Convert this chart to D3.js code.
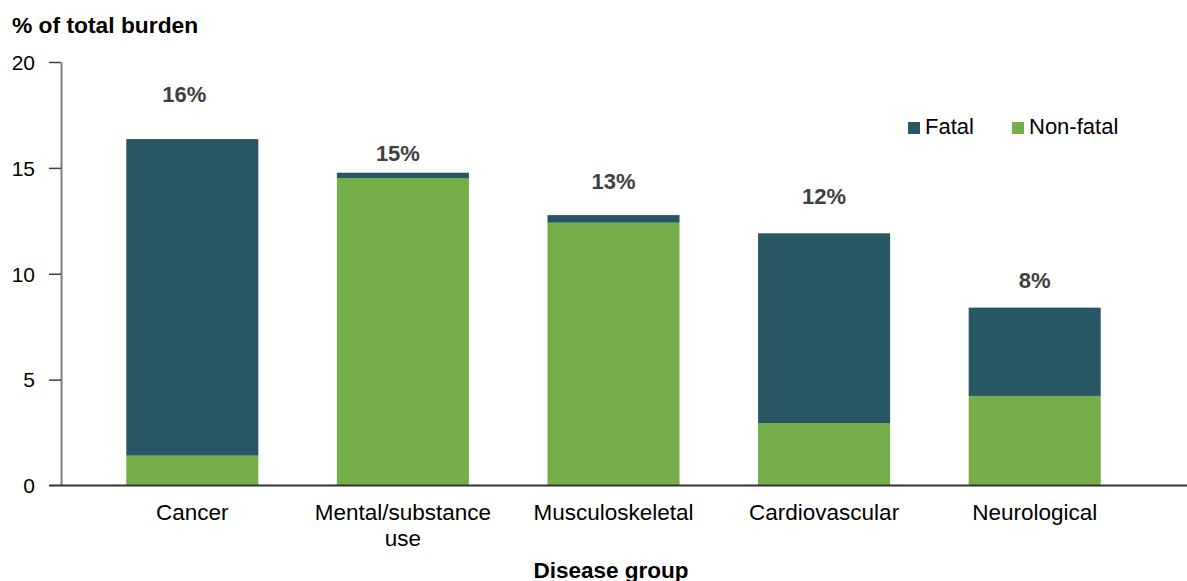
<!DOCTYPE html>
<html>
<head>
<meta charset="utf-8">
<script src="https://cdn.jsdelivr.net/npm/d3@7/dist/d3.min.js"></script>
<style>
  html, body { margin: 0; padding: 0; background: #fff; }
  svg { display: block; font-family: "Liberation Sans", Arial, sans-serif; }
</style>
</head>
<body>
<svg id="chart" width="1187" height="581"></svg>
<script>
// Share of total disease burden by disease group, split into fatal and non-fatal
const categories = [["Cancer"], ["Mental/substance", "use"], ["Musculoskeletal"], ["Cardiovascular"], ["Neurological"]];
const nonFatal = [1.41, 14.52, 12.41, 2.95, 4.23];
const fatal = [14.95, 0.25, 0.36, 8.96, 4.17];
const seriesNames = ["Fatal", "Non-fatal"];
const yTicks = [0, 5, 10, 15, 20];

const colors = { "Fatal": "#285764", "Non-fatal": "#75ae48" };

// Total-label placement relative to each bar top, in pixels
const labelLift = [37, 12, 26, 29, 20];
const labelShift = [-8, -5, 0, 0, 0];

const svg = d3.select("#chart");

const keys = categories.map(c => c.join(" "));
const rows = keys.map((k, i) => ({ key: k, "Non-fatal": nonFatal[i], "Fatal": fatal[i] }));

const x = d3.scaleBand().domain(keys).range([61, 1166]).paddingInner(0.373).paddingOuter(0.31);
const y = d3.scaleLinear().domain([0, 20]).range([485.5, 62]);

const stack = d3.stack().keys(["Non-fatal", "Fatal"]);
const layers = stack(rows);

// Bars
svg.append("g").selectAll("g")
  .data(layers)
  .join("g")
  .attr("fill", d => colors[d.key])
  .selectAll("rect")
  .data(d => d)
  .join("rect")
  .attr("x", d => x(d.data.key))
  .attr("width", x.bandwidth())
  .attr("y", d => y(d[1]))
  .attr("height", d => y(d[0]) - y(d[1]));

// Y axis
const yAxis = svg.append("g")
  .attr("transform", "translate(61,0)")
  .call(d3.axisLeft(y).tickValues(yTicks).tickSize(12).tickSizeOuter(0).tickPadding(14));
yAxis.select(".domain").attr("stroke", "#7f7f7f").attr("stroke-width", 2);
yAxis.selectAll(".tick line").attr("stroke", "#404040").attr("stroke-width", 1.5);
yAxis.selectAll(".tick text")
  .attr("fill", "#000")
  .style("font-size", "21px")
  .attr("dy", "0.35em");
yAxis.select(".tick line").remove();

// X axis baseline
svg.append("line")
  .attr("x1", 49).attr("x2", 1187)
  .attr("y1", y(0)).attr("y2", y(0))
  .attr("stroke", "#333")
  .attr("stroke-width", 1.8);

// Category labels
const catG = svg.append("g");
categories.forEach((lines, i) => {
  const t = catG.append("text")
    .attr("x", x(keys[i]) + x.bandwidth() / 2)
    .attr("y", 520)
    .attr("text-anchor", "middle")
    .attr("fill", "#000")
    .style("font-size", "22.5px");
  lines.forEach((ln, j) => {
    t.append("tspan")
      .attr("x", x(keys[i]) + x.bandwidth() / 2)
      .attr("dy", j === 0 ? 0 : 26)
      .text(ln);
  });
});

// Total labels above bars
rows.forEach((r, i) => {
  const total = r["Non-fatal"] + r["Fatal"];
  svg.append("text")
    .attr("x", x(r.key) + x.bandwidth() / 2 + labelShift[i])
    .attr("y", y(total) - labelLift[i])
    .attr("text-anchor", "middle")
    .attr("fill", "#404040")
    .style("font-size", "22px")
    .style("font-weight", "bold")
    .text(Math.round(total) + "%");
});

// Axis titles
svg.append("text")
  .attr("x", 12).attr("y", 33)
  .attr("fill", "#000")
  .style("font-size", "22.8px")
  .style("font-weight", "bold")
  .text("% of total burden");

svg.append("text")
  .attr("x", 611).attr("y", 578)
  .attr("text-anchor", "middle")
  .attr("fill", "#000")
  .style("font-size", "22.5px")
  .style("font-weight", "bold")
  .text("Disease group");

// Legend
const legendX = [908, 1012];
const legend = svg.append("g");
seriesNames.forEach((name, i) => {
  legend.append("rect")
    .attr("x", legendX[i]).attr("y", 122)
    .attr("width", 12).attr("height", 12)
    .attr("fill", colors[name]);
  legend.append("text")
    .attr("x", legendX[i] + 17).attr("y", 134)
    .attr("fill", "#000")
    .style("font-size", "22px")
    .text(name);
});
</script>
</body>
</html>
